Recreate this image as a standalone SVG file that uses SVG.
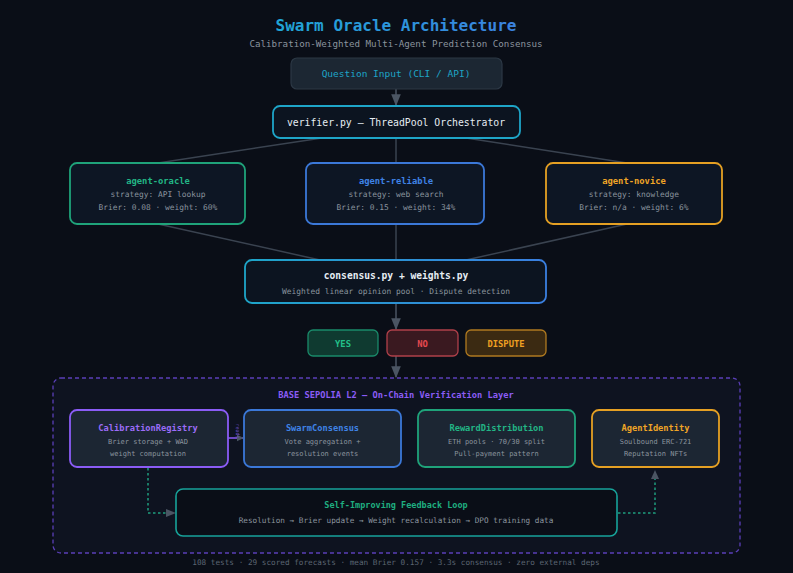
<svg xmlns="http://www.w3.org/2000/svg" width="793" height="573" viewBox="0 0 793 573">
<defs>
<marker id="ah" viewBox="0 0 10 10" refX="9" refY="5" markerWidth="7" markerHeight="7" orient="auto-start-reverse" markerUnits="userSpaceOnUse">
<path d="M0,0 L10,5 L0,10 z" fill="#4b5563"/>
</marker>
<marker id="ahs" viewBox="0 0 10 10" refX="9" refY="5" markerWidth="12" markerHeight="12" orient="auto" markerUnits="userSpaceOnUse">
<path d="M0,1 L10,5 L0,9 z" fill="#4b5563"/>
</marker>
<linearGradient id="gt" x1="0" x2="1" y1="0" y2="0">
<stop offset="0" stop-color="#1fa7d6"/>
<stop offset="1" stop-color="#3b82e0"/>
</linearGradient>
<linearGradient id="gc" x1="0" x2="1" y1="0" y2="0">
<stop offset="0" stop-color="#1ea5c8"/>
<stop offset="1" stop-color="#3a7fe0"/>
</linearGradient>
</defs>
<style>
text{font-family:"DejaVu Sans Mono","Liberation Mono",monospace;text-anchor:middle}
.b{font-weight:bold}
.sub{fill:#8b949e}
.line{stroke:#3a4350;stroke-width:1.5;fill:none}
.arr{stroke:#4b5563;stroke-width:1.5;fill:none}
.dash{stroke:#1f9e7e;stroke-width:1.5;fill:none;stroke-dasharray:2.5 2.5}
.agent{fill:#0d1624;stroke-width:1.8}
.ctr{fill:#1c2633;stroke-width:1.8}
</style>
<rect x="0" y="0" width="793" height="573" fill="#0a0e17"/>
<text x="396" y="31" class="b" font-size="16" fill="url(#gt)">Swarm Oracle Architecture</text>
<text x="396" y="46.5" font-size="9.2" class="sub">Calibration-Weighted Multi-Agent Prediction Consensus</text>

<g id="layer">
<rect x="53" y="378" width="687" height="175" rx="8" fill="#0e1320" stroke="#5b3fb8" stroke-width="1.3" stroke-dasharray="4 3"/>
<text x="396" y="398" class="b" font-size="8.7" fill="#8b5cf6">BASE SEPOLIA L2 — On-Chain Verification Layer</text>
</g>

<g id="connectors">
<line class="arr" x1="396" y1="89" x2="396" y2="105" marker-end="url(#ahs)"/>
<line class="line" x1="322" y1="138" x2="158" y2="163"/>
<line class="line" x1="396" y1="138" x2="396" y2="163"/>
<line class="line" x1="466" y1="138" x2="627" y2="163"/>
<line class="line" x1="158" y1="224" x2="320" y2="260"/>
<line class="line" x1="396" y1="224" x2="396" y2="260"/>
<line class="line" x1="627" y1="224" x2="466" y2="260"/>
<line class="arr" x1="396" y1="303" x2="396" y2="329" marker-end="url(#ahs)"/>
<line class="arr" x1="396" y1="356" x2="396" y2="377" marker-end="url(#ahs)"/>
<line x1="228" y1="438" x2="243" y2="438" stroke="#8b5cf6" stroke-width="1.5" marker-end="url(#ah)"/>
<text x="0" y="0" font-size="5" fill="#6d4fc0" transform="translate(235.5,431) rotate(90)">reads</text>
<polyline class="dash" points="148,468 148,513 168,513"/>
<path d="M166,509 L176,513 L166,517 z" fill="#4b5563"/>
<polyline class="dash" points="618,513 655,513 655,478"/>
<path d="M651,479 L655,470 L659,479 z" fill="#4b5563"/>
</g>

<g id="question">
<rect x="291" y="58" width="211" height="31" rx="6" fill="#1c2733" stroke="#2c3845" stroke-width="1.2"/>
<text x="396" y="77" font-size="9.5" fill="#1ea5c8">Question Input (CLI / API)</text>
</g>

<g id="verifier">
<rect x="273" y="106" width="247" height="32" rx="7" fill="#0c1420" stroke="#1ea5c8" stroke-width="1.8"/>
<text x="396" y="125.5" font-size="9.8" fill="#e6edf3">verifier.py — ThreadPool Orchestrator</text>
</g>

<g id="agent-oracle">
<rect class="agent" x="70" y="163" width="175" height="61" rx="7" stroke="#1fa37a"/>
<text x="158" y="184" class="b" font-size="8.8" fill="#22b585">agent-oracle</text>
<text x="158" y="197" font-size="7.9" class="sub">strategy: API lookup</text>
<text x="158" y="210" font-size="7.9" class="sub">Brier: 0.08 · weight: 60%</text>
</g>

<g id="agent-reliable">
<rect class="agent" x="306" y="163" width="178" height="61" rx="7" stroke="#3b78d8"/>
<text x="396" y="184" class="b" font-size="8.8" fill="#3f83e6">agent-reliable</text>
<text x="396" y="197" font-size="7.9" class="sub">strategy: web search</text>
<text x="396" y="210" font-size="7.9" class="sub">Brier: 0.15 · weight: 34%</text>
</g>

<g id="agent-novice">
<rect class="agent" x="546" y="163" width="176" height="61" rx="7" stroke="#e5a023"/>
<text x="634" y="184" class="b" font-size="8.8" fill="#f0a526">agent-novice</text>
<text x="634" y="197" font-size="7.9" class="sub">strategy: knowledge</text>
<text x="634" y="210" font-size="7.9" class="sub">Brier: n/a · weight: 6%</text>
</g>

<g id="consensus">
<rect x="245" y="260" width="301" height="43" rx="7" fill="#0c1420" stroke="url(#gc)" stroke-width="1.8"/>
<text x="396" y="279" class="b" font-size="9.6" fill="#e6edf3">consensus.py + weights.py</text>
<text x="396" y="294" font-size="7.9" class="sub">Weighted linear opinion pool · Dispute detection</text>
</g>

<g id="yes">
<rect x="308" y="330" width="70" height="26" rx="5" fill="#0f3a30" stroke="#1a8a6a" stroke-width="1.3"/>
<text x="343" y="347" class="b" font-size="8.8" fill="#22c08a">YES</text>
</g>
<g id="no">
<rect x="387" y="330" width="71" height="26" rx="5" fill="#3a1920" stroke="#b0404a" stroke-width="1.3"/>
<text x="422.5" y="347" class="b" font-size="8.8" fill="#e5484f">NO</text>
</g>
<g id="dispute">
<rect x="466" y="330" width="80" height="26" rx="5" fill="#3b2a12" stroke="#b07a20" stroke-width="1.3"/>
<text x="506" y="347" class="b" font-size="8.8" fill="#efa022">DISPUTE</text>
</g>

<g id="calibration-registry">
<rect class="ctr" x="70" y="410" width="158" height="57" rx="7" stroke="#8b5cf6"/>
<text x="148" y="431" class="b" font-size="8.7" fill="#9b6cf8">CalibrationRegistry</text>
<text x="148" y="444" font-size="7" class="sub">Brier storage + WAD</text>
<text x="148" y="456" font-size="7" class="sub">weight computation</text>
</g>

<g id="swarm-consensus">
<rect class="ctr" x="244" y="410" width="157" height="57" rx="7" stroke="#3b78d8"/>
<text x="322.5" y="431" class="b" font-size="8.7" fill="#3f83e6">SwarmConsensus</text>
<text x="322.5" y="444" font-size="7" class="sub">Vote aggregation +</text>
<text x="322.5" y="456" font-size="7" class="sub">resolution events</text>
</g>

<g id="reward-distribution">
<rect class="ctr" x="418" y="410" width="157" height="57" rx="7" stroke="#1fa37a"/>
<text x="496.5" y="431" class="b" font-size="8.7" fill="#22b585">RewardDistribution</text>
<text x="496.5" y="444" font-size="7" class="sub">ETH pools · 70/30 split</text>
<text x="496.5" y="456" font-size="7" class="sub">Pull-payment pattern</text>
</g>

<g id="agent-identity">
<rect class="ctr" x="592" y="410" width="127" height="57" rx="7" stroke="#e5a023"/>
<text x="655.5" y="431" class="b" font-size="8.7" fill="#f0a526">AgentIdentity</text>
<text x="655.5" y="444" font-size="7" class="sub">Soulbound ERC-721</text>
<text x="655.5" y="456" font-size="7" class="sub">Reputation NFTs</text>
</g>

<g id="feedback-loop">
<rect x="176" y="489" width="441" height="47" rx="7" fill="#0a0e17" stroke="#17a39a" stroke-width="1.6"/>
<text x="396" y="508" class="b" font-size="8.5" fill="#1fae80">Self-Improving Feedback Loop</text>
<text x="396" y="523" font-size="7.7" class="sub">Resolution → Brier update → Weight recalculation → DPO training data</text>
</g>

<text x="396" y="565" font-size="7.7" fill="#5b6572">108 tests · 29 scored forecasts · mean Brier 0.157 · 3.3s consensus · zero external deps</text>
</svg>
